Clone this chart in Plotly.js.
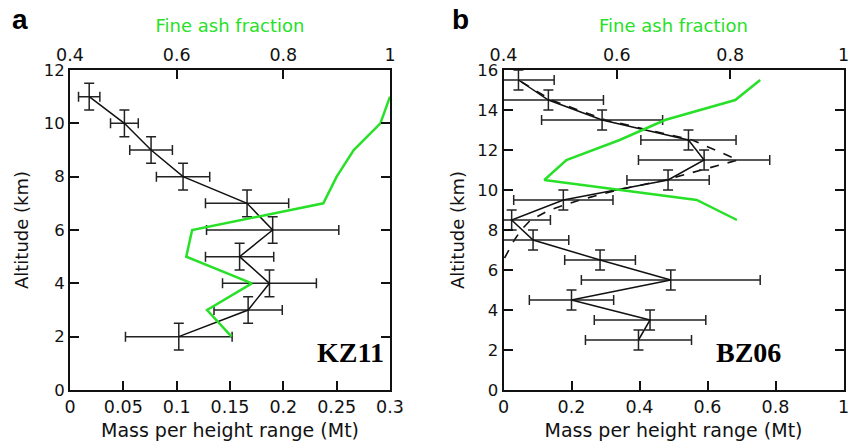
<!DOCTYPE html>
<html>
<head>
<meta charset="utf-8">
<script src="https://cdn.plot.ly/plotly-3.0.1.min.js"></script>
<style>html,body{margin:0;padding:0;background:#fff;}#chart{width:861px;height:444px;}</style>
</head>
<body>
<div id="chart"></div>
<script>
// ---- Panel a (KZ11) ----
const altA      = [2, 3, 4, 5, 6, 7, 8, 9, 10, 11];
const massA     = [0.102, 0.167, 0.187, 0.159, 0.190, 0.166, 0.106, 0.076, 0.051, 0.018];
const massErrA  = [0.050, 0.032, 0.044, 0.032, 0.062, 0.039, 0.025, 0.020, 0.013, 0.010];
const altErrA   = [0.5, 0.5, 0.5, 0.5, 0.5, 0.5, 0.5, 0.5, 0.5, 0.5];
const fineAltA  = [2, 3, 4, 5, 6, 7, 8, 9, 10, 11];
const fineA     = [0.703, 0.657, 0.741, 0.618, 0.629, 0.875, 0.900, 0.932, 0.982, 1.0];

// ---- Panel b (BZ06) ----
const altB      = [2.5, 3.5, 4.5, 5.5, 6.5, 7.5, 8.5, 9.5, 10.5, 11.5, 12.5, 13.5, 14.5, 15.5];
const massB     = [0.397, 0.431, 0.200, 0.492, 0.284, 0.087, 0.024, 0.176, 0.484, 0.590, 0.544, 0.290, 0.132, 0.044];
const massErrB  = [0.156, 0.164, 0.124, 0.263, 0.104, 0.105, 0.114, 0.146, 0.121, 0.193, 0.140, 0.178, 0.162, 0.105];
const altErrB   = [0.5, 0.5, 0.5, 0.5, 0.5, 0.5, 0.5, 0.5, 0.5, 0.5, 0.5, 0.5, 0.5, 0.5];
const fitAltB   = [6.6, 7.0, 7.5, 8.0, 8.5, 9.0, 9.5, 10.0, 10.5, 11.5, 12.5, 13.5, 14.5, 15.5];
const fitMassB  = [0.003, 0.015, 0.032, 0.052, 0.080, 0.135, 0.225, 0.335, 0.475, 0.690, 0.555, 0.300, 0.140, 0.044];
const fineAltB  = [8.5, 9.5, 10.5, 11.5, 12.5, 13.5, 14.5, 15.5];
const fineB     = [0.812, 0.741, 0.472, 0.511, 0.605, 0.685, 0.809, 0.853];

// ---- tick labels / titles ----
const xTitle = 'Mass per height range (Mt)';
const yTitle = 'Altitude (km)';
const topTitle = 'Fine ash fraction';

const GREEN = '#28e028';
const FONT = 'DejaVu Sans, Verdana, sans-serif';
const BOLD = 'Liberation Sans, Arial, Helvetica, sans-serif';
const W = 861, H = 444;
const px = v => v / W, py = v => 1 - v / H;

const errStyle = {color: '#222', thickness: 1.5, width: 5};

const traces = [
  {x: massA, y: altA, xaxis: 'x', yaxis: 'y', type: 'scatter', mode: 'lines',
   line: {color: '#111', width: 1.5},
   error_x: Object.assign({type: 'data', array: massErrA, visible: true}, errStyle),
   error_y: Object.assign({type: 'data', array: altErrA, visible: true}, errStyle),
   showlegend: false},
  {x: fineA, y: fineAltA, xaxis: 'x3', yaxis: 'y', type: 'scatter', mode: 'lines',
   line: {color: GREEN, width: 2.5}, showlegend: false},
  {x: fitMassB, y: fitAltB, xaxis: 'x2', yaxis: 'y2', type: 'scatter', mode: 'lines',
   line: {color: '#111', width: 1.6, dash: 'dash'}, showlegend: false},
  {x: massB, y: altB, xaxis: 'x2', yaxis: 'y2', type: 'scatter', mode: 'lines',
   line: {color: '#111', width: 1.5},
   error_x: Object.assign({type: 'data', array: massErrB, visible: true}, errStyle),
   error_y: Object.assign({type: 'data', array: altErrB, visible: true}, errStyle),
   showlegend: false},
  {x: fineB, y: fineAltB, xaxis: 'x4', yaxis: 'y2', type: 'scatter', mode: 'lines',
   line: {color: GREEN, width: 2.5}, showlegend: false}
];

const xTickFont = {family: FONT, size: 17.5, color: '#111'};
const yTickFont = {family: FONT, size: 16.5, color: '#111'};
const baseAx = {
  showgrid: false, zeroline: false, showline: true, linecolor: '#111', linewidth: 2,
  ticks: 'inside', ticklen: 9, tickwidth: 2, tickcolor: '#111',
  automargin: false, fixedrange: true
};
const domA = [px(70), px(390)];
const domB = [px(503.5), px(843.5)];
const domY = [py(390), py(70)];

const botTitleFont = {family: FONT, size: 19, color: '#111'};
const topTitleFont = {family: FONT, size: 18, color: GREEN};
const yTitleFont = {family: FONT, size: 18, color: '#111'};

const layout = {
  width: W, height: H,
  margin: {l: 0, r: 0, t: 0, b: 0},
  paper_bgcolor: '#fff', plot_bgcolor: '#fff',
  font: {family: FONT, color: '#111'},
  xaxis: Object.assign({}, baseAx, {domain: domA, anchor: 'y', range: [0, 0.3], dtick: 0.05, tick0: 0,
    tickfont: xTickFont, title: {text: xTitle, font: botTitleFont, standoff: 8}}),
  xaxis3: Object.assign({}, baseAx, {overlaying: 'x', side: 'top', anchor: 'y', range: [0.4, 1], dtick: 0.2, tick0: 0.4,
    tickfont: xTickFont, title: {text: topTitle, font: topTitleFont, standoff: 8}}),
  yaxis: Object.assign({}, baseAx, {domain: domY, anchor: 'x', range: [0, 12], dtick: 2, mirror: 'ticks',
    tickfont: yTickFont, title: {text: yTitle, font: yTitleFont, standoff: 10}}),
  xaxis2: Object.assign({}, baseAx, {domain: domB, anchor: 'y2', range: [0, 1], dtick: 0.2, tick0: 0,
    tickfont: xTickFont, title: {text: xTitle, font: botTitleFont, standoff: 8}}),
  xaxis4: Object.assign({}, baseAx, {overlaying: 'x2', side: 'top', anchor: 'y2', range: [0.4, 1], dtick: 0.2, tick0: 0.4,
    tickfont: xTickFont, title: {text: topTitle, font: topTitleFont, standoff: 8}}),
  yaxis2: Object.assign({}, baseAx, {domain: domY, anchor: 'x2', range: [0, 16], dtick: 2, mirror: 'ticks',
    tickfont: yTickFont, title: {text: yTitle, font: yTitleFont, standoff: 8}}),
  annotations: [
    {text: '<b>a</b>', xref: 'paper', yref: 'paper', x: px(20), y: py(19), showarrow: false,
     xanchor: 'center', yanchor: 'middle', font: {family: BOLD, size: 28, color: '#000'}},
    {text: '<b>b</b>', xref: 'paper', yref: 'paper', x: px(460), y: py(19), showarrow: false,
     xanchor: 'center', yanchor: 'middle', font: {family: BOLD, size: 28, color: '#000'}},
    {text: '<b>KZ11</b>', xref: 'paper', yref: 'paper', x: px(350), y: py(352), showarrow: false,
     xanchor: 'center', yanchor: 'middle', font: {family: 'Liberation Serif, Times New Roman, serif', size: 28, color: '#000'}},
    {text: '<b>BZ06</b>', xref: 'paper', yref: 'paper', x: px(748), y: py(352), showarrow: false,
     xanchor: 'center', yanchor: 'middle', font: {family: 'Liberation Serif, Times New Roman, serif', size: 28, color: '#000'}}
  ]
};

Plotly.newPlot('chart', traces, layout, {displayModeBar: false, staticPlot: true});
</script>
</body>
</html>
